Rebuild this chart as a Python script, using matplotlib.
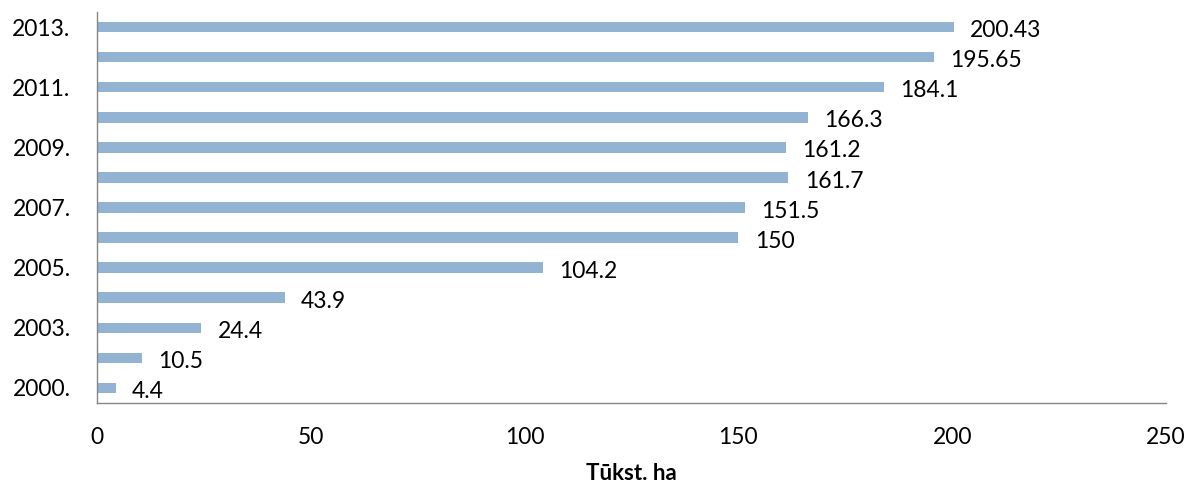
import matplotlib
matplotlib.use("Agg")
import matplotlib.pyplot as plt

years = ["2000.", "2002.", "2003.", "2004.", "2005.", "2006.", "2007.",
         "2008.", "2009.", "2010.", "2011.", "2012.", "2013."]
values = [4.4, 10.5, 24.4, 43.9, 104.2, 150, 151.5, 161.7, 161.2, 166.3,
          184.1, 195.65, 200.43]
value_labels = ["4.4", "10.5", "24.4", "43.9", "104.2", "150", "151.5",
                "161.7", "161.2", "166.3", "184.1", "195.65", "200.43"]
shown_years = ["2000.", "2003.", "2005.", "2007.", "2009.", "2011.", "2013."]
xticks = [0, 50, 100, 150, 200, 250]
xlabel = "Tūkst. ha"

plt.rcParams['font.family'] = ['Lato', 'DejaVu Sans']
FS = 16.5

fig = plt.figure(figsize=(11.91, 4.84), dpi=100)
ax = fig.add_axes([97/1191, 1 - 403/484, (1166-97)/1191, (403-12)/484])

pos = list(range(len(years)))
ax.barh(pos, values, height=0.35, color="#93B3D3")
for p, v, t in zip(pos, values, value_labels):
    ax.text(v + 3.8, p - 0.12, t, va="center", ha="left", fontsize=FS, color="black")

ax.set_ylim(-0.5, len(years) - 0.5)
ax.set_xlim(0, 250)
ax.set_yticks(pos)
ax.set_yticklabels([y if y in shown_years else "" for y in years], fontsize=FS)
ax.set_xticks(xticks)
ax.set_xticklabels([str(x) for x in xticks], fontsize=FS)
ax.tick_params(axis="both", length=0)
ax.tick_params(axis="y", pad=19)
ax.tick_params(axis="x", pad=17)
ax.set_xlabel(xlabel, fontsize=FS - 0.5, fontweight="bold", labelpad=11)

for s in ["top", "right"]:
    ax.spines[s].set_visible(False)
for s in ["left", "bottom"]:
    ax.spines[s].set_color("#868686")
    ax.spines[s].set_linewidth(1)

fig.savefig("out.png", dpi=100)
